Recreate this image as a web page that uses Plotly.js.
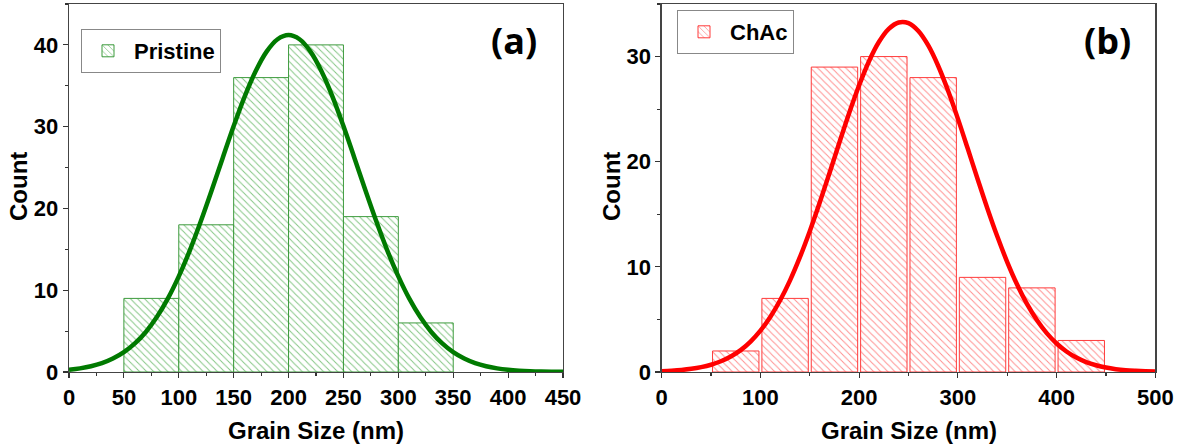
<!DOCTYPE html>
<html>
<head>
<meta charset="utf-8">
<script src="https://cdn.plot.ly/plotly-3.0.1.min.js"></script>
<style>html,body{margin:0;padding:0;background:#fff;}#chart{width:1183px;height:448px;}</style>
</head>
<body>
<div id="chart"></div>
<script>
// ---- Data ----
const binWidth = 50;
// (a) Pristine
const pristineBinStart = [50, 100, 150, 200, 250, 300];
const pristineCounts   = [9, 18, 36, 40, 19, 6];
const pristineFitX = [0,10,20,30,40,50,60,70,80,90,100,110,120,130,140,150,160,170,180,190,200,210,220,230,240,250,260,270,280,290,300,310,320,330,340,350,360,370,380,390,400,410,420,430,440,450];
const pristineFitY = [0.27,0.44,0.70,1.08,1.64,2.42,3.49,4.90,6.72,8.97,11.69,14.85,18.40,22.22,26.18,30.07,33.68,36.78,39.18,40.69,41.20,40.69,39.18,36.78,33.68,30.07,26.18,22.22,18.40,14.85,11.69,8.97,6.72,4.90,3.49,2.42,1.64,1.08,0.70,0.44,0.27,0.16,0.09,0.05,0.03,0.02];
// (b) ChAc
const chacBinStart = [50, 100, 150, 200, 250, 300, 350, 400];
const chacCounts   = [2, 7, 29, 30, 28, 9, 8, 3];
const chacFitX = [0,10,20,30,40,50,60,70,80,90,100,110,120,130,140,150,160,170,180,190,200,210,220,230,240,250,260,270,280,290,300,310,320,330,340,350,360,370,380,390,400,410,420,430,440,450,460,470,480,490,500];
const chacFitY = [0.07,0.12,0.19,0.30,0.46,0.69,1.02,1.47,2.08,2.89,3.93,5.23,6.82,8.72,10.92,13.39,16.09,18.93,21.83,24.66,27.27,29.56,31.38,32.63,33.24,33.18,32.43,31.06,29.13,26.77,24.10,21.25,18.36,15.53,12.88,10.46,8.32,6.48,4.95,3.70,2.71,1.95,1.37,0.94,0.64,0.42,0.27,0.17,0.11,0.07,0.04];
const seriesNames = ["Pristine", "ChAc"];
const panelLabels = ["(a)", "(b)"];
const xTitle = "Grain Size (nm)";
const yTitle = "Count";

// ---- Styling ----
const W = 1183, H = 448, MT = 4, MB = 76;
const PH = H - MT - MB;
const py = (px) => (H - MB - px) / PH;   // pixel row -> paper y
const FONT = "Liberation Sans, Arial, sans-serif";
const tickFont = {family: FONT, size: 22, color: "#000", weight: "bold"};
const titleFont = {family: FONT, size: 24, color: "#000", weight: "bold"};
const centers = (starts) => starts.map(s => s + binWidth / 2);

const traces = [
  {
    type: "bar", x: centers(pristineBinStart), y: pristineCounts, width: 50,
    name: seriesNames[0], xaxis: "x", yaxis: "y", legend: "legend",
    marker: {color: "rgba(255,255,255,0)", line: {color: "#3d9b3d", width: 1},
      pattern: {shape: "\\", fgcolor: "#5cb25c", bgcolor: "#ffffff", fgopacity: 0.75, size: 5, solidity: 0.2}},
    hoverinfo: "skip"
  },
  {
    type: "scatter", mode: "lines", x: pristineFitX, y: pristineFitY, xaxis: "x", yaxis: "y",
    line: {color: "#007a00", width: 4.5, shape: "spline"}, showlegend: false, hoverinfo: "skip"
  },
  {
    type: "bar", x: centers(chacBinStart), y: chacCounts, width: 47,
    name: seriesNames[1], xaxis: "x2", yaxis: "y2", legend: "legend2",
    marker: {color: "rgba(255,255,255,0)", line: {color: "#ff3b3b", width: 1},
      pattern: {shape: "\\", fgcolor: "#ff6a6a", bgcolor: "#ffffff", fgopacity: 0.75, size: 5, solidity: 0.2}},
    hoverinfo: "skip"
  },
  {
    type: "scatter", mode: "lines", x: chacFitX, y: chacFitY, xaxis: "x2", yaxis: "y2",
    line: {color: "#ff0000", width: 4.5, shape: "spline"}, showlegend: false, hoverinfo: "skip"
  }
];

const axBase = {
  showgrid: false, zeroline: false, showline: true, linecolor: "#444", linewidth: 1.3,
  mirror: true, ticks: "outside", ticklen: 5, tickwidth: 1.2, tickcolor: "#333",
  tickfont: tickFont, fixedrange: true
};

const legendBase = {xanchor: "left", yanchor: "top", bgcolor: "#fff", bordercolor: "#888",
  borderwidth: 1, itemwidth: 42, font: {family: FONT, size: 22, color: "#000", weight: "bold"}};

const ann = (text, xpx, ypx, font, extra) => Object.assign({
  text: text, xref: "paper", yref: "paper", x: xpx / W, y: py(ypx),
  xanchor: "center", yanchor: "middle", showarrow: false, font: font
}, extra || {});

const labelFont = {family: "Open Sans, sans-serif", size: 36, color: "#000", weight: "bold"};

const layout = {
  width: W, height: H,
  margin: {l: 0, r: 0, t: MT, b: MB},
  paper_bgcolor: "#fff", plot_bgcolor: "#fff",
  bargap: 0,
  xaxis: Object.assign({}, axBase, {domain: [69/W, 563/W], range: [0, 450], dtick: 50, tick0: 0,
    minor: {ticks: "outside", ticklen: 3, dtick: 25, tickcolor: "#333"}, anchor: "y"}),
  yaxis: Object.assign({}, axBase, {range: [0, 45], dtick: 10, tick0: 0,
    minor: {ticks: "outside", ticklen: 3, dtick: 5, tickcolor: "#333"}, anchor: "x"}),
  xaxis2: Object.assign({}, axBase, {domain: [661.7/W, 1155.3/W], range: [0, 500], dtick: 100, tick0: 0,
    minor: {ticks: "outside", ticklen: 3, dtick: 50, tickcolor: "#333"}, anchor: "y2"}),
  yaxis2: Object.assign({}, axBase, {range: [0, 35], dtick: 10, tick0: 0,
    minor: {ticks: "outside", ticklen: 3, dtick: 5, tickcolor: "#333"}, anchor: "x2"}),
  legend: Object.assign({}, legendBase, {x: 81/W, y: py(29)}),
  legend2: Object.assign({}, legendBase, {x: 677/W, y: py(10)}),
  annotations: [
    ann(panelLabels[0], 514, 40, labelFont),
    ann(panelLabels[1], 1107, 40, labelFont),
    ann(yTitle, 18, 187, titleFont, {textangle: -90}),
    ann(yTitle, 611, 187, titleFont, {textangle: -90}),
    ann(xTitle, 316, 430, titleFont),
    ann(xTitle, 909, 430, titleFont)
  ],
  showlegend: true
};

Plotly.newPlot("chart", traces, layout, {staticPlot: true, displayModeBar: false});
</script>
</body>
</html>
